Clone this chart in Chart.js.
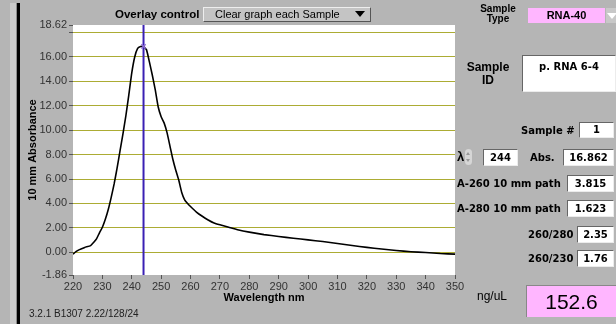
<!DOCTYPE html>
<html>
<head>
<meta charset="utf-8">
<script src="https://cdn.jsdelivr.net/npm/chart.js@4/dist/chart.umd.min.js"></script>
<style>
  html, body { margin: 0; padding: 0; }
  body { width: 616px; height: 324px; background: #b5b5b5; position: relative; overflow: hidden;
         font-family: "Liberation Sans", Arial, sans-serif; color: #000; }
  #chartId { position: absolute; left: 0; top: 0; }
  .abs { position: absolute; white-space: nowrap; }
  .lbl { font-family: "DejaVu Sans", sans-serif; font-weight: bold; font-size: 10px; line-height: 13px; }
  .box { position: absolute; box-sizing: border-box; background: #fff;
         border-top: 1px solid #666; border-left: 1px solid #666;
         border-bottom: 1px solid #ececec; border-right: 1px solid #ececec;
         font-family: "DejaVu Sans", sans-serif; font-weight: bold; font-size: 10px; text-align: center; }
</style>
</head>
<body>
<!-- left frame strips -->
<div class="abs" style="left:10px;top:3px;width:6px;height:321px;background:#cacaca;"></div>
<div class="abs" style="left:16px;top:3px;width:1px;height:321px;background:#8a8a8a;"></div>
<div class="abs" style="left:17px;top:3px;width:3px;height:321px;background:#000;"></div>

<canvas id="chartId" width="616" height="324"></canvas>

<!-- header -->
<div class="abs" style="left:115px;top:8px;font-weight:bold;font-size:11.5px;line-height:13px;">Overlay control</div>
<div class="abs" style="left:203px;top:7px;width:168px;height:15px;box-sizing:border-box;background:#c4c4c4;
     border-top:1px solid #eee;border-left:1px solid #eee;border-bottom:1px solid #555;border-right:1px solid #555;"></div>
<div class="abs" style="left:215px;top:8px;font-size:11px;line-height:13px;">Clear graph each Sample</div>
<div class="abs" style="left:355px;top:11px;width:0;height:0;border-left:5px solid transparent;border-right:5px solid transparent;border-top:6px solid #000;"></div>

<!-- right panel -->
<div class="abs" style="left:478px;top:4px;width:40px;text-align:center;font-weight:bold;font-size:10px;line-height:10px;">Sample<br>Type</div>
<div class="abs" style="left:528px;top:8px;width:77px;height:15px;background:#ffb6ff;text-align:center;font-weight:bold;font-size:11px;line-height:15px;">RNA-40</div>
<div class="abs" style="left:606px;top:8px;width:12px;height:15px;background:#c8c8c8;"></div>
<div class="abs" style="left:607px;top:13px;width:0;height:0;border-left:5px solid transparent;border-right:5px solid transparent;border-top:6px solid #fff;"></div>

<div class="abs" style="left:464px;top:61px;width:48px;text-align:center;font-weight:bold;font-size:12px;line-height:13px;">Sample<br>ID</div>
<div class="box" style="left:522px;top:55px;width:94px;height:37px;line-height:14px;padding-top:4px;">p. RNA 6-4</div>

<div class="abs lbl" style="left:521px;top:124px;">Sample #</div>
<div class="box" style="left:579px;top:122px;width:35px;height:16px;line-height:14px;">1</div>

<div class="abs" style="left:457px;top:149px;font-weight:bold;font-size:13px;line-height:15px;">λ</div>
<div class="abs" style="left:465px;top:149px;width:7px;height:16px;border-radius:4px;background:#d6d6d6;"></div>
<div class="abs" style="left:466px;top:152px;width:0;height:0;border-left:2px solid transparent;border-right:2px solid transparent;border-bottom:3px solid #999;"></div>
<div class="abs" style="left:466px;top:159px;width:0;height:0;border-left:2px solid transparent;border-right:2px solid transparent;border-top:3px solid #999;"></div>
<div class="box" style="left:483px;top:149px;width:35px;height:17px;line-height:15px;">244</div>
<div class="abs lbl" style="left:530px;top:151px;">Abs.</div>
<div class="box" style="left:563px;top:149px;width:51px;height:17px;line-height:15px;">16.862</div>

<div class="abs lbl" style="left:457px;top:177px;">A-260 10 mm path</div>
<div class="box" style="left:567px;top:175px;width:47px;height:17px;line-height:15px;">3.815</div>
<div class="abs lbl" style="left:457px;top:202px;">A-280 10 mm path</div>
<div class="box" style="left:567px;top:200px;width:47px;height:17px;line-height:15px;">1.623</div>

<div class="abs lbl" style="left:528px;top:228px;">260/280</div>
<div class="box" style="left:577px;top:226px;width:37px;height:17px;line-height:15px;">2.35</div>
<div class="abs lbl" style="left:528px;top:252px;">260/230</div>
<div class="box" style="left:577px;top:250px;width:37px;height:17px;line-height:15px;">1.76</div>

<div class="abs" style="left:477px;top:289px;font-size:12px;line-height:14px;">ng/uL</div>
<div class="abs" style="left:526px;top:285px;width:90px;height:32px;box-sizing:border-box;background:#ffb6ff;
     border-top:1px solid #888;border-left:1px solid #888;text-align:center;font-size:21px;line-height:31px;">152.6</div>

<div class="abs" style="left:29px;top:308px;font-size:10px;line-height:12px;color:#222;">3.2.1 B1307 2.22/128/24</div>

<script>
// spectrum
const wavelengths = [220, 221, 222, 224, 226, 227, 228, 229, 230, 231, 232, 233, 234, 235, 236, 237, 238, 239,
  240, 241, 242, 243, 244, 245, 246, 247, 248, 249, 250, 251, 252, 253, 254, 255, 256, 257, 258, 259, 260,
  262, 264, 266, 268, 270, 273, 276, 280, 285, 290, 295, 300, 305, 310, 315, 320, 325, 330, 335, 340, 345, 350];
const absorbance = [-0.15, 0.05, 0.2, 0.4, 0.55, 0.8, 1.1, 1.6, 2.05, 2.7, 3.5, 4.5, 5.6, 6.9, 8.3, 9.7, 11.2, 12.9,
  14.7, 16.0, 16.7, 16.85, 16.862, 16.6, 15.6, 14.5, 13.3, 11.9, 11.1, 10.6, 9.8, 8.7, 7.6, 6.7, 5.9, 4.9, 4.3, 4.0, 3.75,
  3.3, 2.95, 2.65, 2.4, 2.25, 2.05, 1.85, 1.65, 1.45, 1.3, 1.15, 1.02, 0.88, 0.72, 0.56, 0.4, 0.27, 0.15, 0.05, -0.02, -0.1, -0.15];

const cursorNm = 244;
const cursorAbs = 16.862;
const yMin = -1.86;
const yMax = 18.62;
const yTicks = [-1.86, 0, 2, 4, 6, 8, 10, 12, 14, 16, 18, 18.62];
const xMin = 220, xMax = 350, xStep = 10;

document.addEventListener('DOMContentLoaded', function () {
    const spectrum = wavelengths.map((w, i) => ({ x: w, y: absorbance[i] }));

    // white plot background
    const plotBg = {
        id: 'plotBg',
        beforeDraw(chart) {
            const a = chart.chartArea;
            chart.ctx.save();
            chart.ctx.fillStyle = '#ffffff';
            chart.ctx.fillRect(a.left, a.top, a.right - a.left, a.bottom - a.top);
            chart.ctx.restore();
        }
    };

    const chrt = document.getElementById('chartId').getContext('2d');
    new Chart(chrt, {
        type: 'line',
        data: {
            datasets: [{
                data: spectrum,
                borderColor: '#000000',
                borderWidth: 1.6,
                pointRadius: 0,
                tension: 0.15,
                order: 2
            }, {
                data: [{ x: cursorNm, y: yMin }, { x: cursorNm, y: yMax }],
                borderColor: '#3a20b4',
                borderWidth: 2,
                pointRadius: 0,
                order: 1
            }, {
                data: [{ x: cursorNm, y: cursorAbs }],
                showLine: false,
                pointStyle: 'crossRot',
                pointRadius: 3,
                borderColor: '#8a6ad0',
                borderWidth: 1.5,
                order: 0
            }]
        },
        options: {
            responsive: false,
            animation: false,
            layout: { padding: { left: 20, top: 25, right: 161, bottom: 19 } },
            plugins: { legend: { display: false }, tooltip: { enabled: false } },
            scales: {
                x: {
                    type: 'linear',
                    min: xMin,
                    max: xMax,
                    afterFit(scale) { scale.height = 30; },
                    ticks: {
                        stepSize: xStep,
                        color: '#333',
                        padding: 1,
                        maxRotation: 0,
                        font: { family: 'Liberation Sans', size: 11 }
                    },
                    grid: { drawOnChartArea: false, tickLength: 4, tickColor: '#555' },
                    border: { display: false },
                    title: {
                        display: true,
                        text: 'Wavelength nm',
                        color: '#000',
                        padding: { top: 0, bottom: 0 },
                        font: { family: 'Liberation Sans', size: 11, weight: 'bold' }
                    }
                },
                y: {
                    min: yMin,
                    max: yMax,
                    afterFit(scale) { scale.width = 53; },
                    afterBuildTicks(scale) { scale.ticks = yTicks.map(v => ({ value: v })); },
                    ticks: {
                        autoSkip: false,
                        color: '#333',
                        padding: 2,
                        font: { family: 'Liberation Sans', size: 11 },
                        callback: v => (v === 18 ? '' : v.toFixed(2))
                    },
                    grid: {
                        color: c => (c.tick && (c.tick.value === yMin || c.tick.value === yMax) ? 'rgba(0,0,0,0)' : '#acac34'),
                        tickLength: 4,
                        tickColor: '#555'
                    },
                    border: { display: false },
                    title: {
                        display: true,
                        text: '10 mm Absorbance',
                        color: '#000',
                        padding: { top: 6, bottom: 0 },
                        font: { family: 'Liberation Sans', size: 11, weight: 'bold' }
                    }
                }
            }
        },
        plugins: [plotBg]
    });
});
</script>
</body>
</html>
